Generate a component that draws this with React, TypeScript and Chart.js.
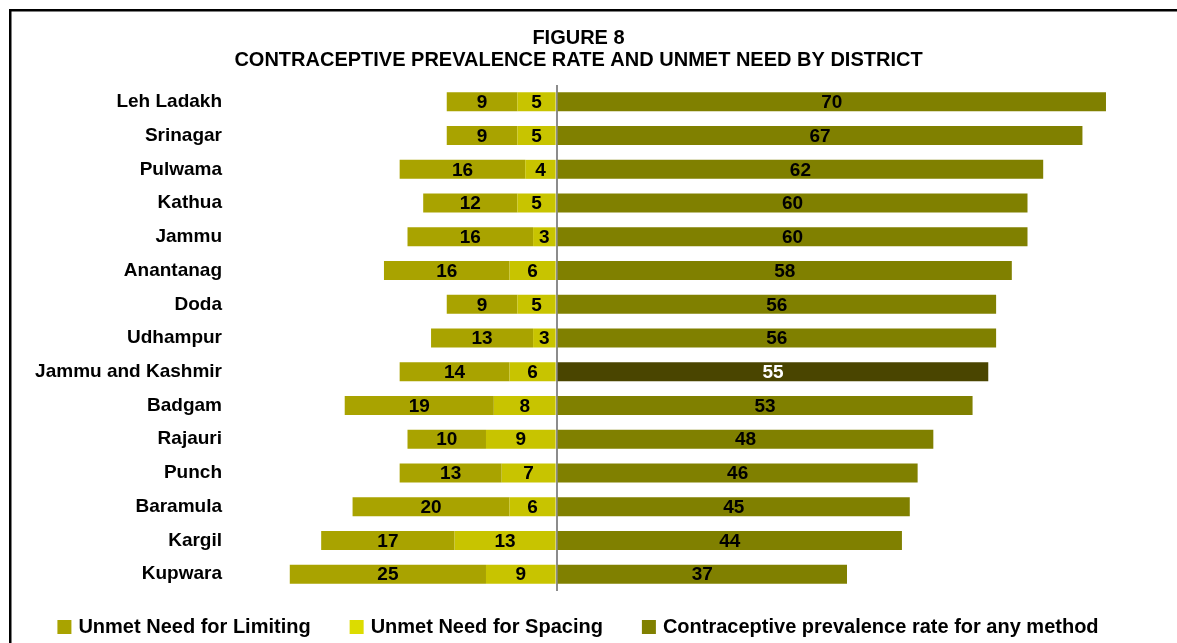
import React, { useEffect, useRef } from "react";
import { Chart, registerables } from "chart.js";

Chart.register(...registerables);

const categories = [
  "Leh Ladakh",
  "Srinagar",
  "Pulwama",
  "Kathua",
  "Jammu",
  "Anantanag",
  "Doda",
  "Udhampur",
  "Jammu and Kashmir",
  "Badgam",
  "Rajauri",
  "Punch",
  "Baramula",
  "Kargil",
  "Kupwara",
];
const limiting = [9, 9, 16, 12, 16, 16, 9, 13, 14, 19, 10, 13, 20, 17, 25];
const spacing = [5, 5, 4, 5, 3, 6, 5, 3, 6, 8, 9, 7, 6, 13, 9];
const cpr = [70, 67, 62, 60, 60, 58, 56, 56, 55, 53, 48, 46, 45, 44, 37];
const seriesNames = [
  "Unmet Need for Limiting",
  "Unmet Need for Spacing",
  "Contraceptive prevalence rate for any method",
];
const titleLines = [
  "FIGURE 8",
  "CONTRACEPTIVE PREVALENCE RATE AND UNMET NEED BY DISTRICT",
];
const highlight = "Jammu and Kashmir";

const FONT = "'Liberation Sans', Arial, Helvetica, sans-serif";
const COL_LIMIT = "#A9A300";
const COL_SPACE = "#C8C400";
const COL_SPACE_LEG = "#DCDC00";
const COL_CPR = "#808000";
const COL_HL = "#4A4500";

const labelPlugin = {
  id: "barLabels",
  afterDatasetsDraw(chart: any) {
    const ctx = chart.ctx;
    ctx.save();
    ctx.font = `bold 19px ${FONT}`;
    ctx.textAlign = "center";
    ctx.textBaseline = "middle";
    chart.data.datasets.forEach((ds: any, di: number) => {
      const meta = chart.getDatasetMeta(di);
      meta.data.forEach((el: any, i: number) => {
        const v = Math.abs(ds.data[i]);
        const p = el.getProps(["x", "base", "y"], true);
        ctx.fillStyle =
          di === 2 && categories[i] === highlight ? "#FFFFFF" : "#000000";
        ctx.fillText(String(v), (p.x + p.base) / 2, p.y + 1);
      });
    });
    ctx.restore();
  },
};

const framePlugin = {
  id: "frameLegend",
  afterDraw(chart: any) {
    const ctx = chart.ctx;
    const W = chart.width;
    const H = chart.height;
    ctx.save();
    // frame
    ctx.fillStyle = "#000000";
    ctx.fillRect(9, 9, W - 9, 2.5);
    ctx.fillRect(9, 9, 2.5, H - 9);
    // legend
    ctx.font = `bold 20px ${FONT}`;
    ctx.textBaseline = "middle";
    ctx.textAlign = "left";
    const cols = [COL_LIMIT, COL_SPACE_LEG, COL_CPR];
    const box = 14;
    const gapBox = 7;
    const gapItem = 39;
    const widths = seriesNames.map((s) => ctx.measureText(s).width);
    const total =
      widths.reduce((a, b) => a + b, 0) +
      seriesNames.length * (box + gapBox) +
      (seriesNames.length - 1) * gapItem;
    let x = 578 - total / 2;
    const cy = 627;
    seriesNames.forEach((s, i) => {
      ctx.fillStyle = cols[i];
      ctx.fillRect(x, cy - 7, box, box);
      x += box + gapBox;
      ctx.fillStyle = "#000000";
      ctx.fillText(s, x, cy);
      x += widths[i] + gapItem;
    });
    ctx.restore();
  },
};

export default function App() {
  const ref = useRef<HTMLCanvasElement>(null);

  useEffect(() => {
    if (!ref.current) return;
    const chart = new Chart(ref.current, {
      type: "bar",
      data: {
        labels: categories,
        datasets: [
          {
            label: seriesNames[1],
            data: spacing.map((v) => -v),
            backgroundColor: COL_SPACE,
            borderWidth: 0,
            barPercentage: 0.563,
            categoryPercentage: 1,
          },
          {
            label: seriesNames[0],
            data: limiting.map((v) => -v),
            backgroundColor: COL_LIMIT,
            borderWidth: 0,
            barPercentage: 0.563,
            categoryPercentage: 1,
          },
          {
            label: seriesNames[2],
            data: cpr,
            backgroundColor: categories.map((c) =>
              c === highlight ? COL_HL : COL_CPR
            ),
            borderWidth: 0,
            barPercentage: 0.563,
            categoryPercentage: 1,
          },
        ],
      },
      options: {
        indexAxis: "y",
        animation: false,
        responsive: false,
        maintainAspectRatio: false,
        layout: { padding: { top: 0, right: 20, bottom: 52, left: 0 } },
        plugins: {
          legend: { display: false },
          tooltip: { enabled: false },
          title: {
            display: true,
            text: titleLines,
            color: "#000000",
            font: { family: FONT, size: 20, weight: "bold", lineHeight: 1.1 },
            padding: { top: 27, bottom: 14 },
          },
        },
        scales: {
          x: {
            stacked: true,
            min: -42,
            max: 76.5,
            ticks: { display: false },
            border: { display: false },
            grid: {
              drawTicks: false,
              lineWidth: 2,
              color: (c: any) =>
                c.tick && c.tick.value === 0 ? "#8C8C8C" : "rgba(0,0,0,0)",
            },
            afterBuildTicks: (axis: any) => {
              axis.ticks = [{ value: 0 }];
            },
            afterFit: (axis: any) => {
              axis.height = 0;
            },
          },
          y: {
            stacked: true,
            grid: { display: false, drawTicks: false },
            border: { display: false },
            ticks: {
              color: "#000000",
              padding: 5,
              font: { family: FONT, size: 19, weight: "bold" },
            },
            afterFit: (axis: any) => {
              axis.width = 227;
            },
          },
        },
      },
      plugins: [labelPlugin, framePlugin],
    });
    return () => chart.destroy();
  }, []);

  return (
    <div
      style={{
        position: "absolute",
        left: 0,
        top: 0,
        width: 1177,
        height: 643,
        background: "#FFFFFF",
      }}
    >
      <canvas ref={ref} width={1177} height={643} />
    </div>
  );
}
